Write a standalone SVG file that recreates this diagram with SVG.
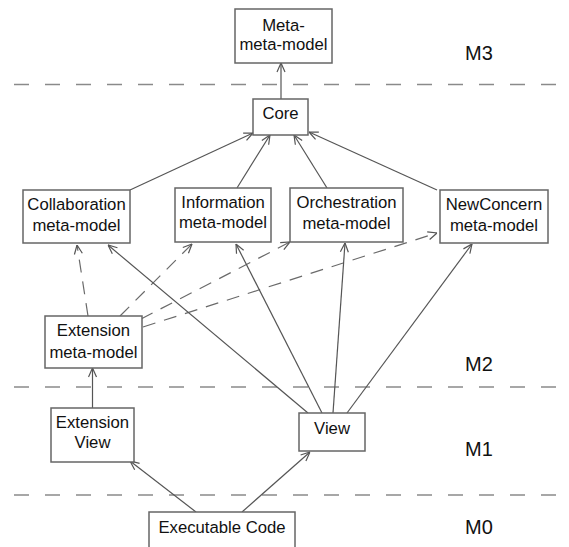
<svg xmlns="http://www.w3.org/2000/svg" width="569" height="547" viewBox="0 0 569 547">
  <style>
    .box { fill: #ffffff; stroke: #666666; stroke-width: 1.5; }
    .lbl { font-family: "Liberation Sans", Arial, sans-serif; font-size: 16.7px; fill: #111111; text-anchor: middle; dominant-baseline: central; }
    .lvl { font-family: "Liberation Sans", Arial, sans-serif; font-size: 20px; fill: #111111; }
    .sep { stroke: #8a8a8a; stroke-width: 1.6; stroke-dasharray: 15 16; fill: none; }
    .edge { stroke: #555555; stroke-width: 1.2; fill: none; marker-end: url(#open); }
    .dep { stroke: #6a6a6a; stroke-width: 1.2; fill: none; stroke-dasharray: 13 9; marker-end: url(#open); }
  </style>
  <defs>
    <marker id="open" viewBox="0 0 10 10" refX="10" refY="5" markerWidth="10" markerHeight="10" markerUnits="userSpaceOnUse" orient="auto">
      <path d="M1,1 L10,5 L1,9" fill="none" stroke="#555555" stroke-width="1.2"/>
    </marker>
  </defs>

  <rect width="569" height="547" fill="#ffffff"/>

  <!-- level separators and level names -->
  <g id="levels">
    <line class="sep" x1="14" y1="84.5" x2="569" y2="84.5"/>
    <line class="sep" x1="14" y1="387" x2="569" y2="387"/>
    <line class="sep" x1="14" y1="495" x2="569" y2="495"/>
    <text class="lvl" x="465" y="60">M3</text>
    <text class="lvl" x="465" y="371">M2</text>
    <text class="lvl" x="465" y="456">M1</text>
    <text class="lvl" x="465" y="534">M0</text>
  </g>

  <!-- connectors -->
  <g id="connectors">
    <line class="edge" x1="281" y1="99" x2="281" y2="63"/>
    <line class="edge" x1="130" y1="190" x2="253" y2="133"/>
    <line class="edge" x1="237" y1="188" x2="270" y2="135"/>
    <line class="edge" x1="327" y1="188" x2="294" y2="135"/>
    <line class="edge" x1="437" y1="190" x2="309" y2="132"/>

    <line class="dep" x1="88" y1="316" x2="77" y2="245"/>
    <line class="dep" x1="120" y1="316" x2="192" y2="244"/>
    <line class="dep" x1="141" y1="319" x2="290" y2="242"/>
    <line class="dep" x1="143" y1="327" x2="437" y2="233"/>

    <line class="edge" x1="308" y1="413" x2="108" y2="245"/>
    <line class="edge" x1="322" y1="413" x2="236" y2="244"/>
    <line class="edge" x1="333" y1="413" x2="345" y2="243"/>
    <line class="edge" x1="347" y1="413" x2="472" y2="244"/>

    <line class="edge" x1="92.5" y1="408" x2="92.5" y2="368"/>
    <line class="edge" x1="196" y1="512" x2="130" y2="461"/>
    <line class="edge" x1="242" y1="512" x2="310" y2="452"/>
  </g>

  <g id="metametamodel">
    <rect class="box" x="235" y="9" width="97" height="54"/>
    <text class="lbl" x="283.5" y="25">Meta-</text>
    <text class="lbl" x="283.5" y="44">meta-model</text>
  </g>

  <g id="core">
    <rect class="box" x="253" y="99" width="55" height="36"/>
    <text class="lbl" x="280.5" y="113.5">Core</text>
  </g>

  <g id="collaboration">
    <rect class="box" x="23" y="190" width="107" height="53"/>
    <text class="lbl" x="76.5" y="204.5">Collaboration</text>
    <text class="lbl" x="76.5" y="225">meta-model</text>
  </g>

  <g id="information">
    <rect class="box" x="175" y="188" width="96" height="54"/>
    <text class="lbl" x="223" y="202">Information</text>
    <text class="lbl" x="223" y="222.5">meta-model</text>
  </g>

  <g id="orchestration">
    <rect class="box" x="290" y="188" width="113" height="54"/>
    <text class="lbl" x="346.5" y="202">Orchestration</text>
    <text class="lbl" x="346.5" y="223">meta-model</text>
  </g>

  <g id="newconcern">
    <rect class="box" x="440" y="190" width="108" height="53"/>
    <text class="lbl" x="494" y="204.5">NewConcern</text>
    <text class="lbl" x="494" y="225">meta-model</text>
  </g>

  <g id="extension-metamodel">
    <rect class="box" x="45" y="316" width="97" height="52"/>
    <text class="lbl" x="93.5" y="330">Extension</text>
    <text class="lbl" x="93.5" y="352">meta-model</text>
  </g>

  <g id="extension-view">
    <rect class="box" x="51" y="408" width="83" height="54"/>
    <text class="lbl" x="92.5" y="422">Extension</text>
    <text class="lbl" x="92.5" y="442">View</text>
  </g>

  <g id="view">
    <rect class="box" x="299" y="413" width="66" height="38"/>
    <text class="lbl" x="332" y="428">View</text>
  </g>

  <g id="executable-code">
    <rect class="box" x="149" y="512" width="146" height="45"/>
    <text class="lbl" x="222" y="527">Executable Code</text>
  </g>
</svg>
